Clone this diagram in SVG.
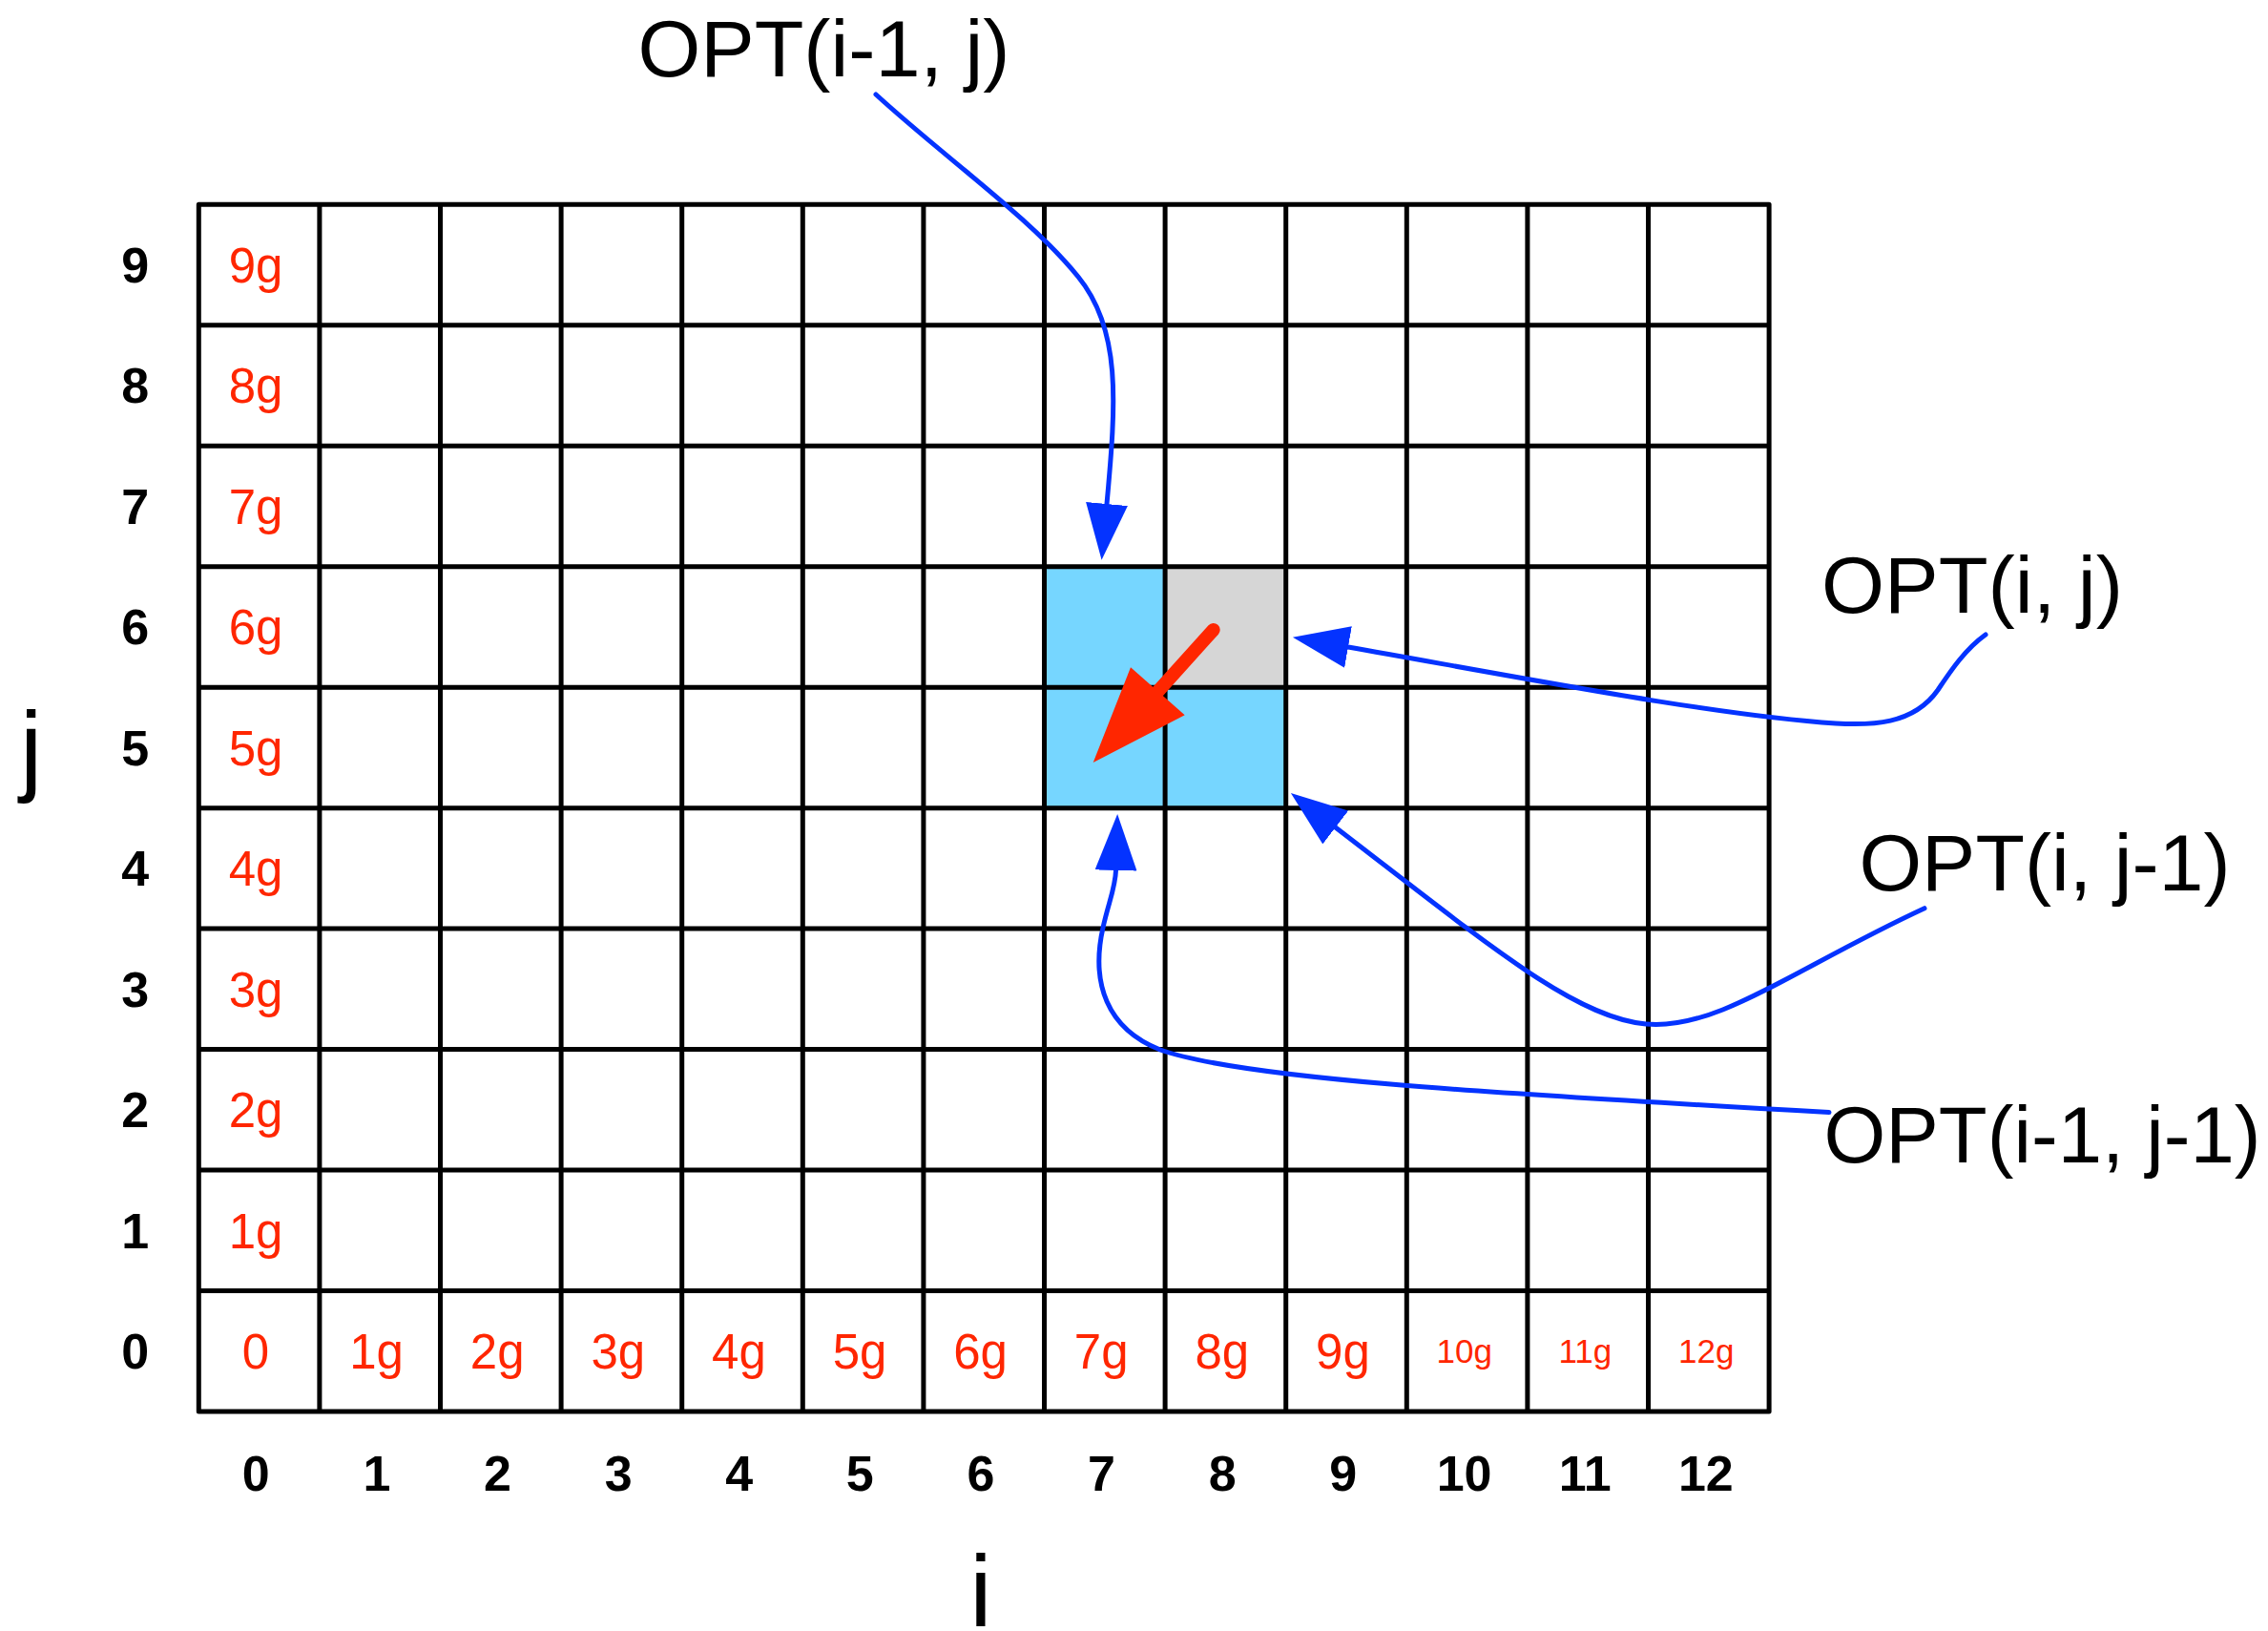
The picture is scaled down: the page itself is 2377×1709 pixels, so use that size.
<svg xmlns="http://www.w3.org/2000/svg" width="2377" height="1709" viewBox="0 0 2377 1709">
<style>
  text { font-family: "Liberation Sans", Arial, Helvetica, sans-serif; }
  .grid { fill: none; stroke: #000; stroke-width: 5; stroke-linejoin: round; }
  .axis { font-size: 52px; font-weight: bold; fill: #000; text-anchor: middle; }
  .val { font-size: 51px; fill: #FF2600; text-anchor: middle; }
  .valsm { font-size: 35px; fill: #FF2600; text-anchor: middle; }
  .opt { font-size: 84px; fill: #000; }
  .big { font-size: 105px; fill: #000; }
  .conn { fill: none; stroke: #0433FF; stroke-width: 5; }
</style>
<defs>
  <marker id="blueHead" markerUnits="userSpaceOnUse" viewBox="0 0 59 44" refX="0" refY="22" markerWidth="59" markerHeight="44" orient="auto">
    <path d="M0,0 L59,22 L0,44 Z" fill="#0433FF"/>
  </marker>
</defs>

<g id="highlight">
  <rect x="1094.5" y="593.7" width="126.6" height="126.5" fill="#76D6FF"/>
  <rect x="1094.5" y="720.2" width="126.6" height="126.5" fill="#76D6FF"/>
  <rect x="1221.1" y="720.2" width="126.6" height="126.5" fill="#76D6FF"/>
  <rect x="1221.1" y="593.7" width="126.6" height="126.5" fill="#D6D6D6"/>
</g>

<g id="grid">
  <path class="grid" d="M334.9,214.3V1479 M461.5,214.3V1479 M588.1,214.3V1479 M714.7,214.3V1479 M841.3,214.3V1479 M967.9,214.3V1479 M1094.5,214.3V1479 M1221.1,214.3V1479 M1347.7,214.3V1479 M1474.3,214.3V1479 M1600.9,214.3V1479 M1727.5,214.3V1479"/>
  <path class="grid" d="M208.3,340.8H1854.1 M208.3,467.2H1854.1 M208.3,593.7H1854.1 M208.3,720.2H1854.1 M208.3,846.7H1854.1 M208.3,973.1H1854.1 M208.3,1099.6H1854.1 M208.3,1226.1H1854.1 M208.3,1352.5H1854.1"/>
  <rect class="grid" x="208.3" y="214.3" width="1645.8" height="1264.7"/>
</g>

<g id="row-labels">
  <text class="axis" x="141.7" y="295.8">9</text>
  <text class="axis" x="141.7" y="422.3">8</text>
  <text class="axis" x="141.7" y="548.8">7</text>
  <text class="axis" x="141.7" y="675.3">6</text>
  <text class="axis" x="141.7" y="801.7">5</text>
  <text class="axis" x="141.7" y="928.2">4</text>
  <text class="axis" x="141.7" y="1054.7">3</text>
  <text class="axis" x="141.7" y="1181.2">2</text>
  <text class="axis" x="141.7" y="1307.6">1</text>
  <text class="axis" x="141.7" y="1434.1">0</text>
</g>

<g id="col-labels">
  <text class="axis" x="268.3" y="1561.7">0</text>
  <text class="axis" x="394.9" y="1561.7">1</text>
  <text class="axis" x="521.5" y="1561.7">2</text>
  <text class="axis" x="648.1" y="1561.7">3</text>
  <text class="axis" x="774.7" y="1561.7">4</text>
  <text class="axis" x="901.3" y="1561.7">5</text>
  <text class="axis" x="1027.9" y="1561.7">6</text>
  <text class="axis" x="1154.5" y="1561.7">7</text>
  <text class="axis" x="1281.1" y="1561.7">8</text>
  <text class="axis" x="1407.7" y="1561.7">9</text>
  <text class="axis" x="1534.6" y="1561.7">10</text>
  <text class="axis" x="1661.2" y="1561.7">11</text>
  <text class="axis" x="1787.8" y="1561.7">12</text>
</g>

<g id="col0-values">
  <text class="val" x="268" y="295.8">9g</text>
  <text class="val" x="268" y="422.3">8g</text>
  <text class="val" x="268" y="548.8">7g</text>
  <text class="val" x="268" y="675.3">6g</text>
  <text class="val" x="268" y="801.7">5g</text>
  <text class="val" x="268" y="928.2">4g</text>
  <text class="val" x="268" y="1054.7">3g</text>
  <text class="val" x="268" y="1181.2">2g</text>
  <text class="val" x="268" y="1307.6">1g</text>
</g>

<g id="row0-values">
  <text class="val" x="268" y="1434.1">0</text>
  <text class="val" x="394.6" y="1434.1">1g</text>
  <text class="val" x="521.2" y="1434.1">2g</text>
  <text class="val" x="647.8" y="1434.1">3g</text>
  <text class="val" x="774.4" y="1434.1">4g</text>
  <text class="val" x="901" y="1434.1">5g</text>
  <text class="val" x="1027.6" y="1434.1">6g</text>
  <text class="val" x="1154.2" y="1434.1">7g</text>
  <text class="val" x="1280.8" y="1434.1">8g</text>
  <text class="val" x="1407.4" y="1434.1">9g</text>
  <text class="valsm" x="1534.7" y="1428">10g</text>
  <text class="valsm" x="1661.3" y="1428">11g</text>
  <text class="valsm" x="1788.3" y="1428">12g</text>
</g>

<g id="axis-titles">
  <text class="big" x="21" y="820">j</text>
  <text class="big" x="1028" y="1704" text-anchor="middle">i</text>
</g>

<g id="label-opt-i1-j">
  <text class="opt" x="668.5" y="80" textLength="390" lengthAdjust="spacingAndGlyphs">OPT(i-1, j)</text>
</g>
<g id="label-opt-i-j">
  <text class="opt" x="1909" y="642.4" textLength="316" lengthAdjust="spacingAndGlyphs">OPT(i, j)</text>
</g>
<g id="label-opt-i-j1">
  <text class="opt" x="1948.5" y="932.5" textLength="389" lengthAdjust="spacingAndGlyphs">OPT(i, j-1)</text>
</g>
<g id="label-opt-i1-j1">
  <text class="opt" x="1911.5" y="1217.6" textLength="458" lengthAdjust="spacingAndGlyphs">OPT(i-1, j-1)</text>
</g>

<g id="connectors">
  <path class="conn" stroke-linecap="round" marker-end="url(#blueHead)" d="M918,99 C990,165 1080,228 1130,290 C1175,345 1170,420 1160,528"/>
  <path class="conn" stroke-linecap="round" marker-end="url(#blueHead)" d="M2081,665 C2060,680 2045,702 2031,723 C2005,760 1960,760 1924,758 C1800,750 1600,711 1413,678"/>
  <path class="conn" stroke-linecap="round" marker-end="url(#blueHead)" d="M2017,951.7 C1880,1015 1800,1080 1725,1073 C1650,1066 1560,990 1399.7,867"/>
  <path class="conn" stroke-linecap="round" marker-end="url(#blueHead)" d="M1917,1165.5 C1550,1145 1300,1130 1216,1100 C1160,1078 1143,1030 1156,972 C1162,945 1169,930 1169.5,912"/>
  <path fill="none" stroke="#FF2600" stroke-width="14" stroke-linecap="round" d="M1271.7,660 L1205,734"/>
  <polygon fill="#FF2600" points="1145.7,799 1185,699.3 1241.7,749.3"/>
</g>
</svg>
